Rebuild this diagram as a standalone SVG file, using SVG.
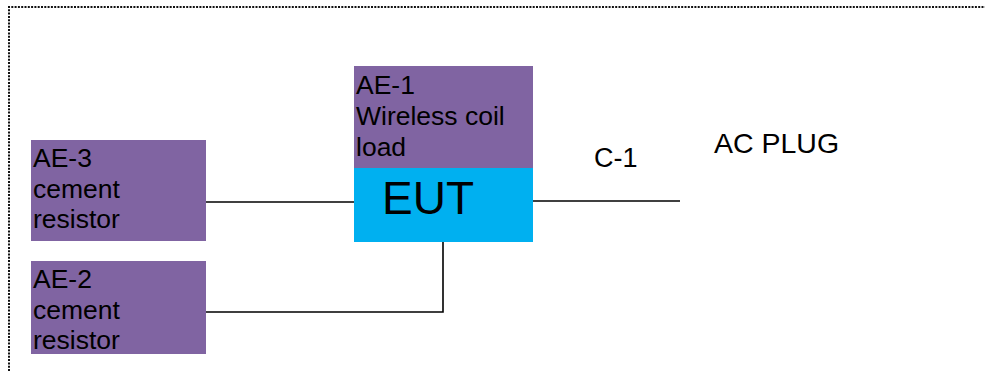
<svg xmlns="http://www.w3.org/2000/svg" width="985" height="371" viewBox="0 0 985 371">
<style>
text{font-family:"Liberation Sans",Arial,sans-serif;fill:#000}
.ae{fill:#8064A2}
.eut{fill:#00B0F0}
.lbl{font-size:26.5px}
.wire{stroke:#000;stroke-width:1.6;fill:none}
.border{stroke:#111;stroke-width:2;stroke-dasharray:2 1.3;fill:none}
</style>
<rect width="985" height="371" fill="#fff"/>
<path class="border" d="M9,371 V7 H985"/>
<g id="connectors">
<line class="wire" x1="206" y1="202" x2="354" y2="202"/>
<polyline class="wire" points="206,312 443,312 443,242"/>
<line class="wire" x1="533" y1="201" x2="680" y2="201"/>
</g>
<g id="ae3">
<rect class="ae" x="31" y="140" width="175" height="101"/>
<text class="lbl" x="33" y="167">AE-3</text>
<text class="lbl" x="33" y="198">cement</text>
<text class="lbl" x="33" y="228">resistor</text>
</g>
<g id="ae2">
<rect class="ae" x="31" y="261" width="175" height="93"/>
<text class="lbl" x="33" y="288">AE-2</text>
<text class="lbl" x="33" y="319">cement</text>
<text class="lbl" x="33" y="349">resistor</text>
</g>
<g id="ae1">
<rect class="ae" x="354" y="66" width="179" height="102"/>
<text class="lbl" x="356" y="94">AE-1</text>
<text class="lbl" x="356" y="125">Wireless coil</text>
<text class="lbl" x="356" y="156">load</text>
</g>
<g id="eut">
<rect class="eut" x="354" y="168" width="179" height="74"/>
<text x="382" y="214" font-size="46">EUT</text>
</g>
<g id="c1">
<text x="594" y="167" font-size="27">C-1</text>
</g>
<g id="acplug">
<text x="714" y="153" font-size="28.5">AC PLUG</text>
</g>
</svg>
